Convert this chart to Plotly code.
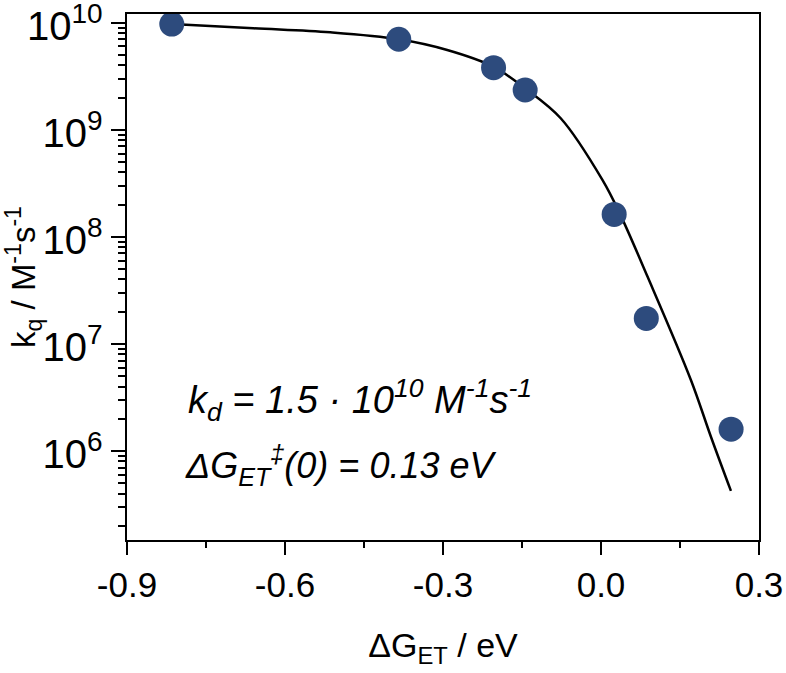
import plotly.graph_objects as go

# measured data (ΔG_ET in eV, k_q in M^-1 s^-1)
dG = [-0.815, -0.384, -0.204, -0.144, 0.025, 0.086, 0.247]
kq = [9.7e9, 7.0e9, 3.8e9, 2.35e9, 1.62e8, 1.73e7, 1.6e6]

# fitted curve
fit_x = [-0.815, -0.660, -0.514, -0.384, -0.292, -0.2045, -0.1444, -0.0765,
         0.0027, 0.0362, 0.0883, 0.1707, 0.2087, 0.2467]
fit_y = [9.73e9, 8.87e9, 8.13e9, 7.0e9, 5.56e9, 3.88e9, 2.44e9, 1.28e9,
         3.40e8, 1.63e8, 4.26e7, 4.61e6, 1.36e6, 4.24e5]

x_ticks = [-0.9, -0.6, -0.3, 0.0, 0.3]
x_ticklabels = ["-0.9", "-0.6", "-0.3", "0.0", "0.3"]

FONT = "Liberation Sans, Arial, sans-serif"

fig = go.Figure()
fig.add_trace(go.Scatter(x=fit_x, y=fit_y, mode="lines",
                         line=dict(color="black", width=2.5, shape="spline", smoothing=1.0),
                         showlegend=False, hoverinfo="skip"))
fig.add_trace(go.Scatter(x=dG, y=kq, mode="markers",
                         marker=dict(color="#2d4b7d", size=25, line=dict(width=0)),
                         showlegend=False))

fig.update_layout(
    width=786, height=673,
    margin=dict(l=127, r=27, t=14, b=133, autoexpand=False),
    paper_bgcolor="white", plot_bgcolor="white",
    font=dict(family=FONT, size=35, color="black"),
    xaxis=dict(range=[-0.9, 0.3], tickvals=x_ticks, ticktext=x_ticklabels,
               ticks="outside", ticklen=13, tickwidth=2, tickcolor="black",
               tickfont=dict(size=35), automargin=False,
               minor=dict(ticks="outside", ticklen=6, tickwidth=2, tickcolor="black", dtick=0.15),
               showline=True, linewidth=2, linecolor="black", mirror=True,
               showgrid=False, zeroline=False,
               title=dict(text="ΔG<sub>ET</sub> / eV", font=dict(size=34), standoff=30)),
    yaxis=dict(type="log", range=[5.169, 10.081], dtick=1, exponentformat="power",
               ticks="outside", ticklen=14, tickwidth=2, tickcolor="black",
               tickfont=dict(size=32), ticklabeloverflow="allow", automargin=False,
               ticklabelshift=3,
               minor=dict(ticks="outside", ticklen=7, tickwidth=2, tickcolor="black", dtick="D1"),
               showline=True, linewidth=2, linecolor="black", mirror=True,
               showgrid=False, zeroline=False, ticklabelstandoff=2,
               title=dict(text="k<sub>q</sub> / M<sup>-1</sup>s<sup>-1</sup>", font=dict(size=33), standoff=2)),
)

fig.add_annotation(xref="paper", yref="paper", x=0.093, y=0.266, xanchor="left", yanchor="middle",
                   text="<i>k<sub>d</sub> = 1.5 · 10<sup>10</sup> M<sup>-1</sup>s<sup>-1</sup></i>",
                   showarrow=False, font=dict(family=FONT, size=38, color="black"))
fig.add_annotation(xref="paper", yref="paper", x=0.088, y=0.141, xanchor="left", yanchor="middle",
                   text="<i>ΔG<sub>ET</sub><sup>‡</sup>(0) = 0.13 eV</i>",
                   showarrow=False, font=dict(family=FONT, size=36, color="black"))

fig.write_html("out.html")
